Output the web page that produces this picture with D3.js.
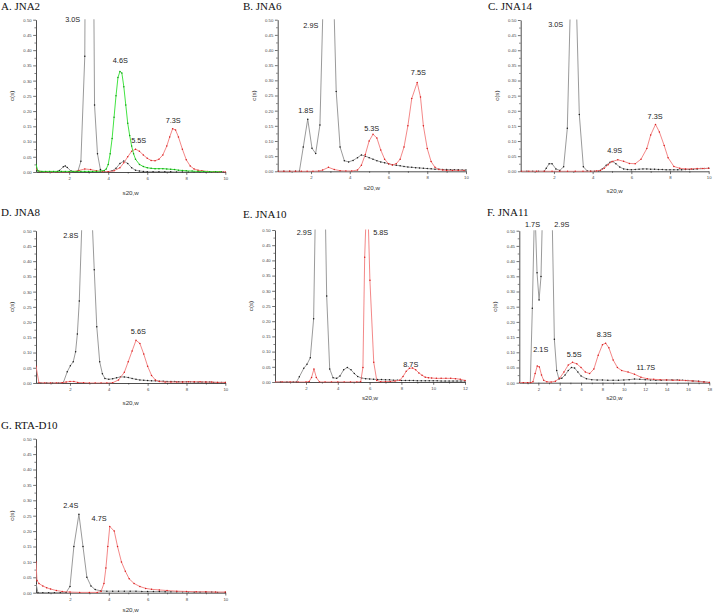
<!DOCTYPE html>
<html>
<head>
<meta charset="utf-8">
<script src="https://cdn.jsdelivr.net/npm/d3@7"></script>
<style>
  html, body { margin: 0; padding: 0; background: #fff; }
  svg { display: block; }
</style>
</head>
<body>
<svg id="chart" width="713" height="615"></svg>
<script>
// ---------------- DATA ----------------
const yTicks = [0, 0.05, 0.10, 0.15, 0.20, 0.25, 0.30, 0.35, 0.40, 0.45, 0.50];
const yMinorTicks = [0.025, 0.075, 0.125, 0.175, 0.225, 0.275, 0.325, 0.375, 0.425, 0.475];
const xTicks10 = [2, 4, 6, 8, 10];
const xMinor10 = [1, 3, 5, 7, 9];
const xTicks12 = [2, 4, 6, 8, 10, 12];
const xMinor12 = [1, 3, 5, 7, 9, 11];
const xTicks18 = [2, 4, 6, 8, 10, 12, 14, 16, 18];
const xMinor18 = [1, 3, 5, 7, 9, 11, 13, 15, 17];
const panelTitles = ["A. JNA2", "B. JNA6", "C. JNA14", "D. JNA8", "E. JNA10", "F. JNA11", "G. RTA-D10"];
const xAxisTitle = "s20,w";
const yAxisTitle = "c(s)";

// A. JNA2
const aGrayS = [0.3,0.5,0.7,0.9,1.1,1.3,1.5,1.7,1.8,1.9,2.1,2.3,2.45,2.6,2.8,3.0,3.3,3.45,3.6,3.8,4.0,4.2,4.4,4.6,4.8,5.0,5.2,5.4,5.6,5.8,6.0,6.3,6.6,6.9,7.2,7.5,7.8,8.1,8.4,8.7,9.0,9.3,9.6,9.9];
const aGrayC = [0.005,0.002,0.001,0,0,0,0.005,0.017,0.02,0.015,0.003,0.001,0.003,0.035,0.38,3.0,0.22,0.06,0.008,0.001,0.001,0.004,0.012,0.028,0.036,0.028,0.014,0.006,0.003,0.002,0.001,0.001,0.001,0.001,0.001,0,0,0,0,0,0,0,0,0];
const aGreenS = [0.3,0.4,0.6,0.8,1.0,1.2,1.4,1.6,1.8,2.0,2.2,2.4,2.6,2.8,3.0,3.2,3.4,3.6,3.8,3.9,4.0,4.1,4.2,4.3,4.4,4.5,4.6,4.7,4.8,4.9,5.0,5.1,5.2,5.3,5.4,5.6,5.8,6.0,6.2,6.4,6.6,6.8,7.0,7.2,7.4,7.6,7.8,8.0,8.3,8.6,8.9,9.2,9.5,9.8];
const aGreenC = [0.025,0.003,0.002,0.002,0.002,0.002,0.002,0.002,0.002,0.002,0.002,0.002,0.002,0.002,0.002,0.002,0.002,0.003,0.005,0.01,0.025,0.06,0.11,0.18,0.25,0.31,0.33,0.325,0.28,0.22,0.16,0.12,0.085,0.06,0.042,0.025,0.018,0.014,0.012,0.011,0.011,0.011,0.01,0.009,0.008,0.006,0.005,0.004,0.003,0.002,0.002,0.001,0.001,0.001];
const aRedS = [0.3,0.5,0.8,1.1,1.4,1.7,2.0,2.3,2.5,2.8,3.1,3.4,3.7,4.0,4.3,4.6,4.8,5.0,5.2,5.4,5.6,5.8,6.0,6.2,6.4,6.6,6.8,7.0,7.15,7.3,7.45,7.6,7.8,8.0,8.2,8.4,8.6,8.8,9.1,9.4,9.7,10.0];
const aRedC = [0.01,0.001,0,0,0,0,0,0.002,0.005,0.01,0.008,0.004,0.001,0.001,0.004,0.014,0.03,0.05,0.068,0.075,0.068,0.056,0.045,0.038,0.037,0.042,0.056,0.085,0.115,0.142,0.138,0.115,0.075,0.04,0.02,0.01,0.006,0.004,0.002,0.001,0.001,0];
const aLabelText = ["3.0S", "4.6S", "5.5S", "7.3S"];
const aLabelS = [2.18, 4.62, 5.56, 7.33];
const aLabelC = [0.492, 0.358, 0.095, 0.161];

// B. JNA6
const bGrayS = [0.3,0.6,0.9,1.2,1.4,1.6,1.83,2.05,2.24,2.46,2.9,3.3,3.5,3.72,3.94,4.17,4.4,4.6,4.8,5.0,5.2,5.4,5.6,5.8,6.0,6.2,6.4,6.6,6.8,7.0,7.2,7.4,7.6,7.8,8.0,8.2,8.4,8.6,8.8,9.0,9.2,9.4,9.6,9.8,10.0];
const bGrayC = [0,0,0,0,0,0.08,0.172,0.076,0.059,0.153,1.24,0.263,0.08,0.035,0.031,0.036,0.045,0.054,0.05,0.045,0.04,0.035,0.031,0.028,0.025,0.022,0.02,0.018,0.016,0.014,0.013,0.012,0.011,0.01,0.009,0.008,0.007,0.007,0.006,0.006,0.005,0.005,0.005,0.004,0.004];
const bRedS = [0.3,0.6,0.9,1.2,1.5,1.8,2.1,2.4,2.6,2.9,3.2,3.5,3.8,4.1,4.4,4.6,4.8,5.0,5.2,5.4,5.6,5.8,6.0,6.2,6.4,6.6,6.8,7.0,7.2,7.48,7.65,7.8,8.0,8.2,8.4,8.6,8.8,9.0,9.3,9.6,9.9];
const bRedC = [0,0,0,0,0,0,0,0.001,0.004,0.013,0.006,0.002,0.001,0.001,0.004,0.02,0.055,0.1,0.122,0.11,0.07,0.04,0.025,0.021,0.025,0.04,0.08,0.15,0.24,0.293,0.245,0.15,0.075,0.032,0.013,0.006,0.004,0.003,0.003,0.003,0.003];
const bLabelText = ["2.9S", "1.8S", "5.3S", "7.5S"];
const bLabelS = [1.99, 1.73, 5.13, 7.54];
const bLabelC = [0.474, 0.191, 0.134, 0.317];

// C. JNA14
const cGrayS = [0.3,0.6,0.9,1.2,1.5,1.6,1.75,1.9,2.1,2.3,2.5,2.69,3.0,3.31,3.52,3.72,3.9,4.1,4.3,4.5,4.7,4.9,5.05,5.2,5.4,5.6,5.8,6.0,6.2,6.4,6.6,6.8,7.0,7.2,7.4,7.6,7.8,8.0,8.2,8.4,8.6,8.8,9.0,9.2,9.4,9.6,9.8,10.0];
const cGrayC = [0,0,0,0,0,0.01,0.025,0.025,0.008,0.003,0.015,0.142,0.94,0.188,0.015,0.001,0,0,0.001,0.008,0.02,0.03,0.032,0.025,0.014,0.008,0.006,0.005,0.006,0.007,0.008,0.008,0.007,0.007,0.006,0.006,0.005,0.005,0.005,0.005,0.005,0.006,0.006,0.007,0.008,0.009,0.009,0.01];
const cRedS = [0.3,0.7,1.1,1.5,1.9,2.3,2.7,3.1,3.5,3.9,4.2,4.4,4.6,4.8,5.0,5.3,5.6,5.9,6.2,6.5,6.8,7.0,7.25,7.45,7.7,7.9,8.2,8.5,8.8,9.1,9.4,9.7,10.0];
const cRedC = [0,0,0,0,0,0,0,0,0,0,0.001,0.003,0.01,0.022,0.032,0.038,0.033,0.026,0.025,0.04,0.075,0.12,0.155,0.13,0.085,0.045,0.016,0.01,0.008,0.008,0.009,0.009,0.01];
const cLabelText = ["3.0S", "4.9S", "7.3S"];
const cLabelS = [2.09, 5.14, 7.23];
const cLabelC = [0.478, 0.059, 0.173];

// D. JNA8
const dGrayS = [0.25,0.5,0.8,1.1,1.4,1.66,1.86,2.02,2.17,2.29,2.38,2.48,2.85,3.25,3.38,3.53,3.67,3.8,4.0,4.2,4.4,4.6,4.8,5.0,5.2,5.4,5.6,5.8,6.0,6.2,6.4,6.6,6.8,7.0,7.2,7.4,7.6,7.8,8.0,8.2,8.4,8.6,8.8,9.0,9.2,9.4,9.6,9.8,10.0];
const dGrayC = [0,0,0,0,0,0.002,0.037,0.057,0.07,0.103,0.161,0.269,0.98,0.372,0.185,0.07,0.03,0.015,0.012,0.014,0.017,0.02,0.02,0.018,0.015,0.012,0.01,0.009,0.008,0.007,0.007,0.006,0.006,0.005,0.005,0.005,0.004,0.004,0.004,0.004,0.003,0.003,0.003,0.003,0.003,0.002,0.002,0.002,0.002];
const dRedS = [0.25,0.4,0.7,1.0,1.3,1.6,1.8,2.0,2.2,2.4,2.7,3.0,3.3,3.6,3.9,4.2,4.5,4.8,5.0,5.2,5.4,5.6,5.8,6.0,6.2,6.4,6.6,6.9,7.2,7.5,7.8,8.1,8.4,8.7,9.0,9.3,9.6,10.0];
const dRedC = [0.055,0.001,0,0,0,0.001,0.003,0.005,0.005,0.002,0.001,0,0,0,0,0.001,0.01,0.035,0.07,0.105,0.14,0.13,0.095,0.055,0.025,0.01,0.005,0.003,0.003,0.003,0.003,0.004,0.004,0.004,0.003,0.003,0.002,0.002];
const dLabelText = ["2.8S", "5.6S"];
const dLabelS = [2.04, 5.52];
const dLabelC = [0.475, 0.16];

// E. JNA10
const eGrayS = [0.05,0.4,0.8,1.2,1.4,1.58,1.86,2.06,2.27,2.48,2.9,3.3,3.49,3.7,3.93,4.14,4.37,4.6,4.83,5.04,5.25,5.5,5.75,6.0,6.25,6.5,6.75,7.0,7.25,7.5,7.75,8.0,8.25,8.5,8.75,9.0,9.25,9.5,9.75,10.0,10.25,10.5,10.75,11.0,11.25,11.5,11.75,12.0];
const eGrayC = [0,0,0,0,0,0.017,0.045,0.058,0.08,0.208,1.57,0.283,0.043,0.014,0.012,0.02,0.04,0.048,0.04,0.028,0.018,0.013,0.011,0.01,0.009,0.008,0.008,0.007,0.007,0.006,0.006,0.005,0.005,0.005,0.005,0.004,0.004,0.004,0.004,0.004,0.004,0.003,0.003,0.003,0.003,0.003,0.003,0.003];
const eRedS = [0.05,0.5,1.0,1.5,2.0,2.2,2.35,2.5,2.65,2.85,3.2,3.6,4.0,4.4,4.8,5.2,5.44,5.58,5.69,5.85,6.02,6.26,6.45,6.7,7.0,7.3,7.6,7.9,8.1,8.3,8.5,8.7,8.9,9.1,9.3,9.5,9.7,9.9,10.2,10.5,10.8,11.1,11.4,11.7,12.0];
const eRedC = [0,0,0,0,0,0.002,0.015,0.043,0.015,0,0,0,0,0,0,0,0.001,0.048,0.41,0.65,0.335,0.065,0.005,0.001,0.001,0.002,0.003,0.006,0.018,0.035,0.045,0.046,0.04,0.03,0.022,0.016,0.014,0.013,0.012,0.012,0.012,0.012,0.011,0.009,0.005];
const eLabelText = ["2.9S", "5.8S", "8.7S"];
const eLabelS = [1.89, 6.7, 8.59];
const eLabelC = [0.484, 0.484, 0.05];

// F. JNA11
const fGrayS = [0.22,0.6,1.0,1.25,1.44,1.66,1.88,2.07,2.25,2.9,3.5,3.72,3.93,4.2,4.5,4.8,5.1,5.4,5.7,6.0,6.5,7.0,7.5,8.0,8.5,9.0,9.5,10.0,10.5,11.0,11.5,12.0,12.5,13.0,13.5,14.0,14.5,15.0,15.5,16.0,16.5,17.0,17.5,18.0];
const fGrayC = [0,0,0,0,0.245,0.6,0.362,0.272,0.349,1.33,0.143,0.04,0.012,0.015,0.025,0.04,0.05,0.048,0.035,0.022,0.013,0.01,0.009,0.009,0.008,0.008,0.008,0.009,0.01,0.012,0.011,0.01,0.009,0.008,0.008,0.009,0.009,0.009,0.008,0.007,0.006,0.005,0.003,0.001];
const fRedS = [0.22,0.6,1.0,1.3,1.5,1.7,1.9,2.1,2.3,2.5,2.8,3.2,3.6,4.0,4.4,4.8,5.2,5.6,6.0,6.4,6.8,7.2,7.6,8.0,8.3,8.6,9.0,9.4,9.8,10.4,11.0,11.6,12.2,12.8,13.4,14.0,14.6,15.2,15.8,16.4,17.0,17.5,18.0];
const fRedC = [0,0,0,0,0.003,0.03,0.055,0.052,0.025,0.008,0.003,0.002,0.005,0.015,0.035,0.058,0.067,0.062,0.05,0.035,0.03,0.045,0.09,0.125,0.13,0.115,0.075,0.05,0.04,0.035,0.028,0.018,0.013,0.011,0.01,0.009,0.008,0.008,0.007,0.006,0.004,0.002,0.001];
const fLabelText = ["1.7S", "2.9S", "2.1S", "5.5S", "8.3S", "11.7S"];
const fLabelS = [1.46, 4.2, 2.23, 5.36, 8.16, 12.06];
const fLabelC = [0.513, 0.513, 0.102, 0.086, 0.149, 0.042];

// G. RTA-D10
const gGrayS = [0.25,0.35,0.6,0.9,1.2,1.5,1.8,2.0,2.2,2.46,2.67,2.87,3.08,3.3,3.6,3.9,4.2,4.5,4.8,5.1,5.4,5.7,6.0,6.3,6.6,6.9,7.2,7.5,7.8,8.1,8.4,8.7,9.0,9.3,9.6,10.0];
const gGrayC = [0.03,0,0,0,0,0,0.001,0.02,0.15,0.255,0.15,0.05,0.022,0.01,0.006,0.005,0.005,0.005,0.005,0.005,0.005,0.004,0.004,0.004,0.004,0.003,0.003,0.003,0.003,0.003,0.002,0.002,0.002,0.002,0.001,0.001];
const gRedS = [0.25,0.3,0.4,0.6,0.8,1.0,1.3,1.6,2.0,2.5,3.0,3.4,3.6,3.75,3.85,3.95,4.05,4.28,4.45,4.65,4.85,5.05,5.3,5.6,5.9,6.2,6.6,7.0,7.5,8.0,8.5,9.0,9.5,10.0];
const gRedC = [0.1,0.04,0.03,0.022,0.016,0.012,0.007,0.004,0.002,0.001,0.001,0.001,0.004,0.03,0.08,0.15,0.215,0.2,0.15,0.1,0.07,0.045,0.03,0.02,0.014,0.011,0.009,0.007,0.005,0.004,0.003,0.003,0.002,0.002];
const gLabelText = ["2.4S", "4.7S"];
const gLabelS = [2.04, 3.5];
const gLabelC = [0.274, 0.234];

// ---------------- STYLE ----------------
const styles = {
  gray:  { line: "#8f8f8f", dot: "#1a1a1a" },
  red:   { line: "#f27a7a", dot: "#d81e1e" },
  green: { line: "#2ee02e", dot: "#149a14" }
};

// ---------------- LAYOUT (pixels) ----------------
const panels = [
  { title: panelTitles[0], tx: 1, ty: 10, left: 36, right: 225.3, top: 19.7, bottom: 172, xMin: 0.3, xMax: 10, ticks: xTicks10, minor: xMinor10, xlabDy: 23,
    series: [[aGrayS, aGrayC, "gray"], [aRedS, aRedC, "red"], [aGreenS, aGreenC, "green"]], labels: [aLabelText, aLabelS, aLabelC] },
  { title: panelTitles[1], tx: 243, ty: 10, left: 277.7, right: 466, top: 19.7, bottom: 171.3, xMin: 0.28, xMax: 10, ticks: xTicks10, minor: xMinor10, xlabDy: 19,
    series: [[bGrayS, bGrayC, "gray"], [bRedS, bRedC, "red"]], labels: [bLabelText, bLabelS, bLabelC] },
  { title: panelTitles[2], tx: 488, ty: 10, left: 520.7, right: 708.7, top: 20, bottom: 171.3, xMin: 0.28, xMax: 10, ticks: xTicks10, minor: xMinor10, xlabDy: 22,
    series: [[cGrayS, cGrayC, "gray"], [cRedS, cRedC, "red"]], labels: [cLabelText, cLabelS, cLabelC] },
  { title: panelTitles[3], tx: 1, ty: 216, left: 36, right: 225.3, top: 230.7, bottom: 383, xMin: 0.25, xMax: 10, ticks: xTicks10, minor: xMinor10, xlabDy: 22,
    series: [[dGrayS, dGrayC, "gray"], [dRedS, dRedC, "red"]], labels: [dLabelText, dLabelS, dLabelC] },
  { title: panelTitles[4], tx: 243, ty: 218, left: 275, right: 465, top: 230, bottom: 382, xMin: 0.05, xMax: 12, ticks: xTicks12, minor: xMinor12, xlabDy: 18,
    series: [[eGrayS, eGrayC, "gray"], [eRedS, eRedC, "red"]], labels: [eLabelText, eLabelS, eLabelC] },
  { title: panelTitles[5], tx: 487, ty: 216, left: 519.3, right: 709.3, top: 230.7, bottom: 382.7, xMin: 0.22, xMax: 18, ticks: xTicks18, minor: xMinor18, xlabDy: 17,
    series: [[fGrayS, fGrayC, "gray"], [fRedS, fRedC, "red"]], labels: [fLabelText, fLabelS, fLabelC] },
  { title: panelTitles[6], tx: 1, ty: 429, left: 36, right: 225.3, top: 438.7, bottom: 592.7, xMin: 0.25, xMax: 10, ticks: xTicks10, minor: xMinor10, xlabDy: 19,
    series: [[gGrayS, gGrayC, "gray"], [gRedS, gRedC, "red"]], labels: [gLabelText, gLabelS, gLabelC] }
];

const svg = d3.select("#chart");
const sans = "'Liberation Sans', Arial, sans-serif";
const serif = "'Liberation Serif', 'Times New Roman', serif";

panels.forEach((p, i) => {
  const x = d3.scaleLinear().domain([p.xMin, p.xMax]).range([p.left, p.right]);
  const y = d3.scaleLinear().domain([0, 0.5]).range([p.bottom, p.top]);
  const g = svg.append("g");

  // title
  g.append("text").attr("x", p.tx).attr("y", p.ty)
    .attr("font-family", serif).attr("font-size", 11).attr("fill", "#111")
    .text(p.title);

  // clip
  const cid = "clip" + i;
  svg.append("clipPath").attr("id", cid).append("rect")
    .attr("x", p.left).attr("y", p.top - 0.5)
    .attr("width", p.right - p.left + 2).attr("height", p.bottom - p.top + 1);

  // y minor ticks
  g.append("g").attr("transform", `translate(${p.left},0)`)
    .call(d3.axisLeft(y).tickValues(yMinorTicks).tickSize(1.6).tickFormat(""))
    .call(a => a.select(".domain").remove())
    .call(a => a.selectAll("line").attr("stroke", "#333").attr("stroke-width", 0.6));
  // x minor ticks
  g.append("g").attr("transform", `translate(0,${p.bottom})`)
    .call(d3.axisBottom(x).tickValues(p.minor).tickSize(1.6).tickFormat(""))
    .call(a => a.select(".domain").remove())
    .call(a => a.selectAll("line").attr("stroke", "#333").attr("stroke-width", 0.6));

  // y axis
  g.append("g").attr("transform", `translate(${p.left},0)`)
    .call(d3.axisLeft(y).tickValues(yTicks).tickFormat(d3.format(".2f")).tickSize(2.8).tickSizeOuter(0).tickPadding(1.5))
    .call(a => a.select(".domain").attr("stroke", "#222").attr("stroke-width", 0.8))
    .call(a => a.selectAll("line").attr("stroke", "#333").attr("stroke-width", 0.7))
    .call(a => a.selectAll("text").attr("font-family", sans).attr("font-size", 4.3).attr("fill", "#444"));

  // x axis
  g.append("g").attr("transform", `translate(0,${p.bottom})`)
    .call(d3.axisBottom(x).tickValues(p.ticks).tickFormat(d3.format("d")).tickSize(2.8).tickSizeOuter(0).tickPadding(2))
    .call(a => a.select(".domain").attr("stroke", "#222").attr("stroke-width", 0.8))
    .call(a => a.selectAll("line").attr("stroke", "#333").attr("stroke-width", 0.7))
    .call(a => a.selectAll("text").attr("font-family", sans).attr("font-size", 4.3).attr("fill", "#444"));

  // axis titles
  g.append("text").attr("x", (p.left + p.right) / 2).attr("y", p.bottom + p.xlabDy)
    .attr("text-anchor", "middle").attr("font-family", sans).attr("font-size", 6.2).attr("fill", "#333")
    .text(xAxisTitle);
  g.append("text")
    .attr("transform", `translate(${p.left - 22},${(p.top + p.bottom) / 2}) rotate(-90)`)
    .attr("text-anchor", "middle").attr("font-family", sans).attr("font-size", 6.2).attr("fill", "#333")
    .text(yAxisTitle);

  // series
  const plot = g.append("g").attr("clip-path", `url(#${cid})`);
  p.series.forEach(([sArr, cArr, kind]) => {
    const pts = sArr.map((s, k) => [s, cArr[k]]);
    const st = styles[kind];
    plot.append("path").datum(pts)
      .attr("fill", "none").attr("stroke", st.line).attr("stroke-width", 0.9)
      .attr("stroke-linejoin", "round")
      .attr("d", d3.line().x(d => x(d[0])).y(d => y(d[1])));
    plot.append("g").selectAll("circle").data(pts).join("circle")
      .attr("cx", d => x(d[0])).attr("cy", d => y(d[1])).attr("r", 0.75)
      .attr("fill", st.dot);
  });

  // peak labels
  const [lt, ls, lc] = p.labels;
  g.append("g").selectAll("text").data(lt).join("text")
    .attr("x", (d, k) => x(ls[k])).attr("y", (d, k) => y(lc[k]))
    .attr("text-anchor", "middle").attr("font-family", sans).attr("font-size", 7.3).attr("fill", "#222")
    .text(d => d);
});
</script>
</body>
</html>
